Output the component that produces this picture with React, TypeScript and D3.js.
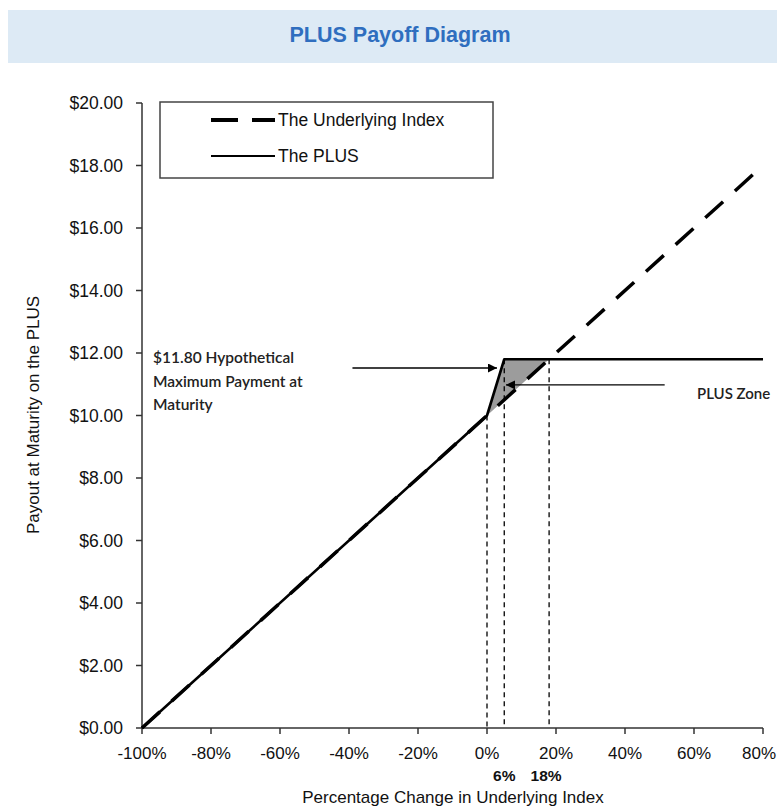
import React from "react";
import * as d3 from "d3";

const W = 777;
const H = 808;

const xTicks = [-100, -80, -60, -40, -20, 0, 20, 40, 60, 80];
const yTicks = [0, 2, 4, 6, 8, 10, 12, 14, 16, 18, 20];

// Underlying index payoff (pct change -> $ value)
const indexPct = [-100, 0, 18, 78];
const indexVal = [0, 10, 11.8, 17.8];

// PLUS payoff
const plusPct = [-100, 0, 5, 80];
const plusVal = [0, 10, 11.8, 11.8];

// PLUS zone vertical markers
const zonePct = [0, 5, 18];
const zoneVal = [10, 11.8, 11.8];
const zoneLabels = ["", "6%", "18%"];

// annotation arrows: from pct -> to pct at value
const arrowFrom = [-39, 51.5];
const arrowTo = [2.9, 5.5];
const arrowVal = [11.52, 10.98];

const annoLines = ["$11.80 Hypothetical", "Maximum Payment at", "Maturity"];

export default function App() {
  const x = d3.scaleLinear().domain([-100, 80]).range([142, 763]);
  const y = d3.scaleLinear().domain([0, 20]).range([728, 103]);

  const line = d3
    .line<[number, number]>()
    .x((d) => x(d[0]))
    .y((d) => y(d[1]));

  const indexPts = indexPct.map((p, i) => [p, indexVal[i]] as [number, number]);
  const plusPts = plusPct.map((p, i) => [p, plusVal[i]] as [number, number]);

  const zonePoly: [number, number][] = [
    [plusPct[1], plusVal[1]],
    [plusPct[2], plusVal[2]],
    [indexPct[2], indexVal[2]],
    [indexPct[1], indexVal[1]],
  ];
  const area = line(zonePoly) + "Z";

  const tickFont = "'Liberation Sans', Arial, sans-serif";
  const annoFont = "Lato, 'Open Sans', sans-serif";

  return (
    <svg
      width={W}
      height={H}
      style={{ position: "absolute", left: 0, top: 0, background: "#fff" }}
    >
      <defs>
        <marker
          id="arr"
          viewBox="0 0 10 10"
          refX="10"
          refY="5"
          markerWidth="12"
          markerHeight="9"
          markerUnits="userSpaceOnUse"
          orient="auto"
        >
          <path d="M0,0 L10,5 L0,10 Z" fill="#000" />
        </marker>
      </defs>

      {/* title band */}
      <rect x={8} y={10} width={W - 8} height={53} fill="#DDEAF5" />
      <text
        x={400}
        y={42}
        textAnchor="middle"
        fontFamily={tickFont}
        fontWeight="bold"
        fontSize={21.5}
        fill="#2F6EBF"
      >
        PLUS Payoff Diagram
      </text>

      {/* shaded zone */}
      <path d={area} fill="#9c9c9c" stroke="none" />

      {/* vertical dashed markers */}
      {zonePct.map((p, i) => (
        <line
          key={"zv" + i}
          x1={x(p)}
          x2={x(p)}
          y1={y(zoneVal[i])}
          y2={y(0)}
          stroke="#000"
          strokeWidth={1.3}
          strokeDasharray="5 4"
        />
      ))}

      {/* axes */}
      <line x1={x(-100)} x2={x(80)} y1={y(0)} y2={y(0)} stroke="#333" strokeWidth={1.5} />
      <line x1={x(-100)} x2={x(-100)} y1={y(0)} y2={y(20)} stroke="#333" strokeWidth={1.5} />
      {yTicks.map((t) => (
        <g key={"yt" + t}>
          <line x1={x(-100) - 6} x2={x(-100)} y1={y(t)} y2={y(t)} stroke="#333" strokeWidth={1.5} />
          <text
            x={123}
            y={y(t) + 6}
            textAnchor="end"
            fontFamily={tickFont}
            fontSize={17.5}
            fill="#111"
          >
            {d3.format("$.2f")(t)}
          </text>
        </g>
      ))}
      {xTicks.map((t, i) => {
        const last = i === xTicks.length - 1;
        return (
          <g key={"xt" + t}>
            <line x1={x(t)} x2={x(t)} y1={y(0)} y2={y(0) + 6} stroke="#333" strokeWidth={1.5} />
            <text
              x={last ? W - 1 : x(t)}
              y={759}
              textAnchor={last ? "end" : "middle"}
              fontFamily={tickFont}
              fontSize={17}
              fill="#111"
            >
              {t + "%"}
            </text>
          </g>
        );
      })}

      {/* zone labels */}
      {zonePct.map((p, i) =>
        zoneLabels[i] ? (
          <text
            key={"zl" + i}
            x={x(p) + (i === 2 ? -3 : 0)}
            y={781}
            textAnchor="middle"
            fontFamily={tickFont}
            fontWeight="bold"
            fontSize={15.5}
            fill="#111"
          >
            {zoneLabels[i]}
          </text>
        ) : null
      )}

      {/* axis titles */}
      <text
        x={453}
        y={803}
        textAnchor="middle"
        fontFamily={tickFont}
        fontSize={17}
        fill="#111"
      >
        Percentage Change in Underlying Index
      </text>
      <text
        transform={`translate(39,415) rotate(-90)`}
        textAnchor="middle"
        fontFamily={tickFont}
        fontSize={17}
        fill="#111"
      >
        Payout at Maturity on the PLUS
      </text>

      {/* lines */}
      <path
        d={line(indexPts) || ""}
        fill="none"
        stroke="#000"
        strokeWidth={3.5}
        strokeDasharray="24 16"
      />
      <path d={line(plusPts) || ""} fill="none" stroke="#000" strokeWidth={2.6} strokeLinejoin="round" />

      {/* arrows */}
      {arrowFrom.map((f, i) => (
        <line
          key={"ar" + i}
          x1={x(f)}
          x2={x(arrowTo[i])}
          y1={y(arrowVal[i])}
          y2={y(arrowVal[i])}
          stroke="#000"
          strokeWidth={1.3}
          markerEnd="url(#arr)"
        />
      ))}

      {/* annotation text */}
      {annoLines.map((s, i) => (
        <text
          key={"an" + i}
          x={153}
          y={363 + i * 23.5}
          fontFamily={annoFont}
          fontSize={15.5}
          fontWeight={600}
          fill="#222"
        >
          {s}
        </text>
      ))}
      <text x={697} y={399} fontFamily={annoFont} fontSize={15} fontWeight={600} fill="#222">
        PLUS Zone
      </text>

      {/* legend */}
      <rect x={160} y={102} width={333} height={76} fill="#fff" stroke="#444" strokeWidth={1.5} />
      <line x1={211} x2={275} y1={120} y2={120} stroke="#000" strokeWidth={4} strokeDasharray="27 14" />
      <text x={278} y={126} fontFamily={tickFont} fontSize={17.5} fill="#111">
        The Underlying Index
      </text>
      <line x1={211} x2={275} y1={156} y2={156} stroke="#000" strokeWidth={2} />
      <text x={278} y={162} fontFamily={tickFont} fontSize={17.5} fill="#111">
        The PLUS
      </text>
    </svg>
  );
}
